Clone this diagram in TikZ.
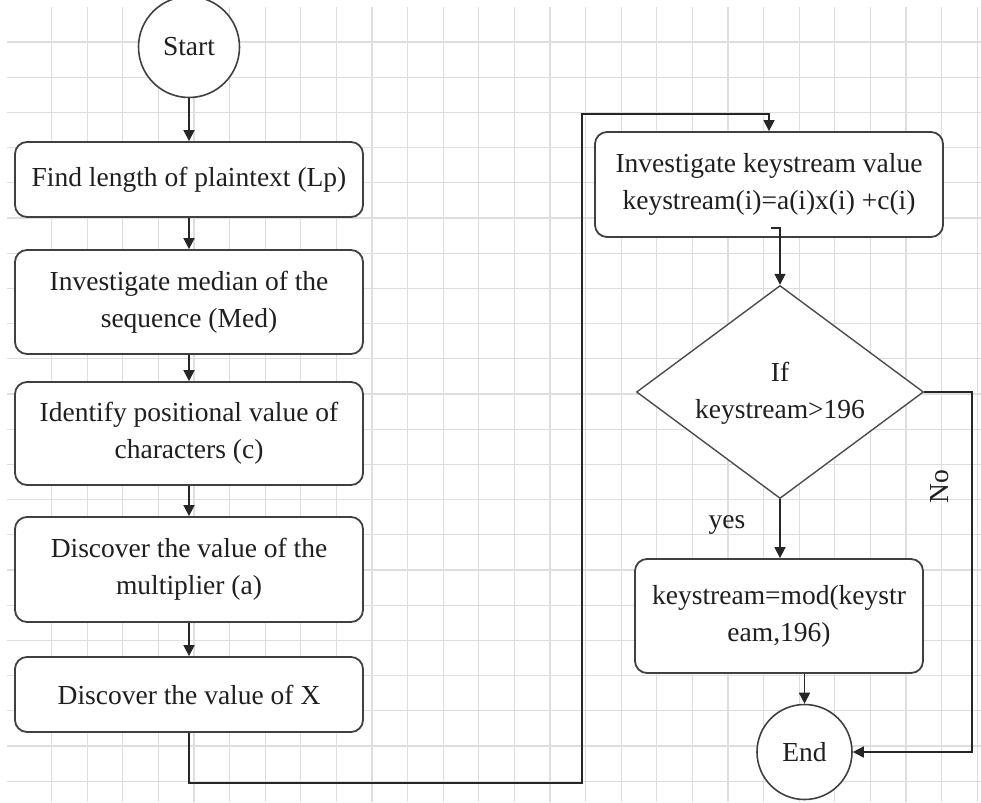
\documentclass[tikz,border=0pt]{standalone}
\usepackage{fontspec}
\setmainfont{Liberation Serif}
\usetikzlibrary{shapes.geometric,arrows.meta}
\begin{document}
\begin{tikzpicture}[x=1pt,y=-1pt,
  gridline/.style={draw=black!13,line width=1.2pt},
  txt/.style={text=black!88,font=\fontsize{27.5}{37}\selectfont},
  proc/.style={txt,draw=black!75,line width=1.8pt,rounded corners=12pt,fill=white,align=center,inner sep=0pt},
  term/.style={txt,circle,draw=black!75,line width=1.6pt,fill=white,inner sep=0pt},
  decision/.style={diamond,draw=black!70,line width=1.4pt,fill=white,inner sep=0pt},
  conn/.style={draw=black!85,line width=1.6pt,-{Triangle[length=11pt,width=11pt]}},
  lbl/.style={txt,align=center}]
\useasboundingbox (0,0) rectangle (981,802);
\fill[white] (0,0) rectangle (981,802);
% background grid
\foreach \k in {1,...,27} \draw[gridline] ({16+35.6*\k},7) -- ({16+35.6*\k},802);
\foreach \k in {0,...,21} \draw[gridline] (7,{42+35.2*\k}) -- (981,{42+35.2*\k});

% left column
\node[term,minimum size=101pt] (start) at (189,47) {Start};
\node[proc,minimum width=348pt,minimum height=75pt] (b1) at (189,179.5) {Find length of plaintext (Lp)};
\node[proc,minimum width=348pt,minimum height=104pt] (b2) at (189,302) {Investigate median of the\\sequence (Med)};
\node[proc,minimum width=348pt,minimum height=103pt] (b3) at (189,433.5) {Identify positional value of\\characters (c)};
\node[proc,minimum width=348pt,minimum height=105pt] (b4) at (189,569.5) {Discover the value of the\\multiplier (a)};
\node[proc,minimum width=348pt,minimum height=75pt] (b5) at (189,694.5) {Discover the value of X};

% right column
\node[proc,minimum width=348pt,minimum height=105pt] (r1) at (769,184.5) {Investigate keystream value\\keystream(i)=a(i)x(i) +c(i)};
\node[decision,minimum width=287pt,minimum height=213pt] (dec) at (780,392) {};
\node[lbl] (dectext) at (780,393.5) {If\\keystream>196};
\node[proc,minimum width=288pt,minimum height=114pt] (r2) at (779,616) {keystream=mod(keystr\\eam,196)};
\node[term,minimum size=95pt] (end) at (804.5,752) {End};

\node[lbl] (yeslbl) at (727,525) {yes};
\node[lbl,rotate=90] (nolbl) at (940,487) {No};

% connectors
\draw[conn] (start.south) -- (b1.north);
\draw[conn] (b1.south) -- (b2.north);
\draw[conn] (b2.south) -- (b3.north);
\draw[conn] (b3.south) -- (b4.north);
\draw[conn] (b4.south) -- (b5.north);
\coordinate (c1) at (582,783);
\coordinate (c2) at (582,114);
\draw[conn] (b5.south) |- (c1) -- (c2) -| (r1.north);
\coordinate (kink) at (771,228);
\draw[conn] (kink) -- (kink -| dec.north) -- (dec.north);
\draw[conn] (dec.south) -- (r2.north -| dec.south);
\draw[conn] (r2.south -| end.north) -- (end.north);
\coordinate (nc) at (972,392);
\draw[conn] (dec.east) -- (nc) |- (end.east);
\end{tikzpicture}
\end{document}
